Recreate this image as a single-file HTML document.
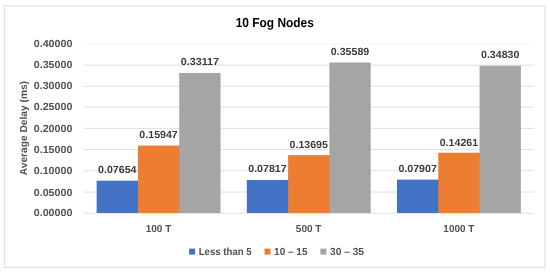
<!DOCTYPE html>
<html lang="en"><head><meta charset="utf-8"><title>10 Fog Nodes</title>
<style>html,body{margin:0;padding:0;background:#fff}body{width:550px;height:272px;overflow:hidden}svg{display:block;filter:blur(0.3px)}text{font-family:"Liberation Sans", Arial, sans-serif;text-rendering:geometricPrecision}</style></head><body>
<svg width="550" height="272" viewBox="0 0 550 272">
<rect x="0" y="0" width="550" height="272" fill="#fff"/>
<rect x="4.45" y="5.95" width="540.5" height="261.5" fill="#fff" stroke="#e1e1e1" stroke-width="1.2"/>
<line x1="83.70" y1="213.25" x2="534.00" y2="213.25" stroke="#e0e0e0" stroke-width="1"/>
<text x="72.5" y="216.45" text-anchor="end" font-size="10.3" font-weight="bold" fill="#525252" textLength="38.8" lengthAdjust="spacingAndGlyphs">0.00000</text>
<line x1="83.70" y1="192.06" x2="534.00" y2="192.06" stroke="#e0e0e0" stroke-width="1"/>
<text x="72.5" y="195.76" text-anchor="end" font-size="10.3" font-weight="bold" fill="#525252" textLength="38.8" lengthAdjust="spacingAndGlyphs">0.05000</text>
<line x1="83.70" y1="170.70" x2="534.00" y2="170.70" stroke="#e0e0e0" stroke-width="1"/>
<text x="72.5" y="173.90" text-anchor="end" font-size="10.3" font-weight="bold" fill="#525252" textLength="38.8" lengthAdjust="spacingAndGlyphs">0.10000</text>
<line x1="83.70" y1="149.45" x2="534.00" y2="149.45" stroke="#e0e0e0" stroke-width="1"/>
<text x="72.5" y="152.65" text-anchor="end" font-size="10.3" font-weight="bold" fill="#525252" textLength="38.8" lengthAdjust="spacingAndGlyphs">0.15000</text>
<line x1="83.70" y1="128.35" x2="534.00" y2="128.35" stroke="#e0e0e0" stroke-width="1"/>
<text x="72.5" y="131.55" text-anchor="end" font-size="10.3" font-weight="bold" fill="#525252" textLength="38.8" lengthAdjust="spacingAndGlyphs">0.20000</text>
<line x1="83.70" y1="107.10" x2="534.00" y2="107.10" stroke="#e0e0e0" stroke-width="1"/>
<text x="72.5" y="110.30" text-anchor="end" font-size="10.3" font-weight="bold" fill="#525252" textLength="38.8" lengthAdjust="spacingAndGlyphs">0.25000</text>
<line x1="83.70" y1="86.25" x2="534.00" y2="86.25" stroke="#e0e0e0" stroke-width="1"/>
<text x="72.5" y="89.45" text-anchor="end" font-size="10.3" font-weight="bold" fill="#525252" textLength="38.8" lengthAdjust="spacingAndGlyphs">0.30000</text>
<line x1="83.70" y1="65.17" x2="534.00" y2="65.17" stroke="#e0e0e0" stroke-width="1"/>
<text x="72.5" y="68.37" text-anchor="end" font-size="10.3" font-weight="bold" fill="#525252" textLength="38.8" lengthAdjust="spacingAndGlyphs">0.35000</text>
<line x1="83.70" y1="43.90" x2="534.00" y2="43.90" stroke="#f8f8f8" stroke-width="1"/>
<text x="72.5" y="47.10" text-anchor="end" font-size="10.3" font-weight="bold" fill="#525252" textLength="38.8" lengthAdjust="spacingAndGlyphs">0.40000</text>
<rect x="96.63" y="180.69" width="42.30" height="32.28" fill="#4472C4"/>
<text x="117.28" y="173.09" text-anchor="middle" font-size="10.3" font-weight="bold" fill="#3b3b3b" textLength="38.4" lengthAdjust="spacingAndGlyphs">0.07654</text>
<rect x="137.93" y="145.61" width="42.30" height="67.36" fill="#ED7D31"/>
<text x="158.58" y="138.01" text-anchor="middle" font-size="10.3" font-weight="bold" fill="#3b3b3b" textLength="38.4" lengthAdjust="spacingAndGlyphs">0.15947</text>
<rect x="179.23" y="72.98" width="41.30" height="139.99" fill="#A5A5A5"/>
<text x="199.88" y="65.38" text-anchor="middle" font-size="10.3" font-weight="bold" fill="#3b3b3b" textLength="38.4" lengthAdjust="spacingAndGlyphs">0.33117</text>
<text x="158.48" y="231.75" text-anchor="middle" font-size="10.1" font-weight="bold" fill="#525252" textLength="25.6" lengthAdjust="spacingAndGlyphs">100 T</text>
<rect x="246.80" y="180.00" width="42.30" height="32.97" fill="#4472C4"/>
<text x="267.45" y="172.40" text-anchor="middle" font-size="10.3" font-weight="bold" fill="#3b3b3b" textLength="38.4" lengthAdjust="spacingAndGlyphs">0.07817</text>
<rect x="288.10" y="155.14" width="42.30" height="57.83" fill="#ED7D31"/>
<text x="308.75" y="147.54" text-anchor="middle" font-size="10.3" font-weight="bold" fill="#3b3b3b" textLength="38.4" lengthAdjust="spacingAndGlyphs">0.13695</text>
<rect x="329.40" y="62.52" width="41.30" height="150.45" fill="#A5A5A5"/>
<text x="350.05" y="54.92" text-anchor="middle" font-size="10.3" font-weight="bold" fill="#3b3b3b" textLength="38.4" lengthAdjust="spacingAndGlyphs">0.35589</text>
<text x="308.65" y="231.75" text-anchor="middle" font-size="10.1" font-weight="bold" fill="#525252" textLength="25.6" lengthAdjust="spacingAndGlyphs">500 T</text>
<rect x="396.97" y="179.62" width="42.30" height="33.35" fill="#4472C4"/>
<text x="417.62" y="172.02" text-anchor="middle" font-size="10.3" font-weight="bold" fill="#3b3b3b" textLength="38.4" lengthAdjust="spacingAndGlyphs">0.07907</text>
<rect x="438.27" y="152.74" width="42.30" height="60.23" fill="#ED7D31"/>
<text x="458.92" y="145.74" text-anchor="middle" font-size="10.3" font-weight="bold" fill="#3b3b3b" textLength="38.4" lengthAdjust="spacingAndGlyphs">0.14261</text>
<rect x="479.57" y="65.73" width="41.30" height="147.24" fill="#A5A5A5"/>
<text x="500.22" y="58.13" text-anchor="middle" font-size="10.3" font-weight="bold" fill="#3b3b3b" textLength="38.4" lengthAdjust="spacingAndGlyphs">0.34830</text>
<text x="458.82" y="231.75" text-anchor="middle" font-size="10.1" font-weight="bold" fill="#525252" textLength="30.9" lengthAdjust="spacingAndGlyphs">1000 T</text>
<text x="274.8" y="26.8" text-anchor="middle" font-size="13.1" font-weight="bold" fill="#000" textLength="78.2" lengthAdjust="spacingAndGlyphs">10 Fog Nodes</text>
<text transform="translate(27.3 128.1) rotate(-90)" text-anchor="middle" font-size="10.2" font-weight="bold" fill="#525252" textLength="94.2" lengthAdjust="spacingAndGlyphs">Average Delay (ms)</text>
<rect x="189.1" y="248.6" width="6" height="6" fill="#4472C4"/>
<text x="198.7" y="254.7" font-size="10.3" font-weight="bold" fill="#525252" textLength="53.0" lengthAdjust="spacingAndGlyphs">Less than 5</text>
<rect x="264.5" y="248.6" width="6" height="6" fill="#ED7D31"/>
<text x="274.1" y="254.7" font-size="10.3" font-weight="bold" fill="#525252" textLength="33.4" lengthAdjust="spacingAndGlyphs">10 – 15</text>
<rect x="320.4" y="248.6" width="6" height="6" fill="#A5A5A5"/>
<text x="330.0" y="254.7" font-size="10.3" font-weight="bold" fill="#525252" textLength="34.0" lengthAdjust="spacingAndGlyphs">30 – 35</text>
</svg></body></html>
